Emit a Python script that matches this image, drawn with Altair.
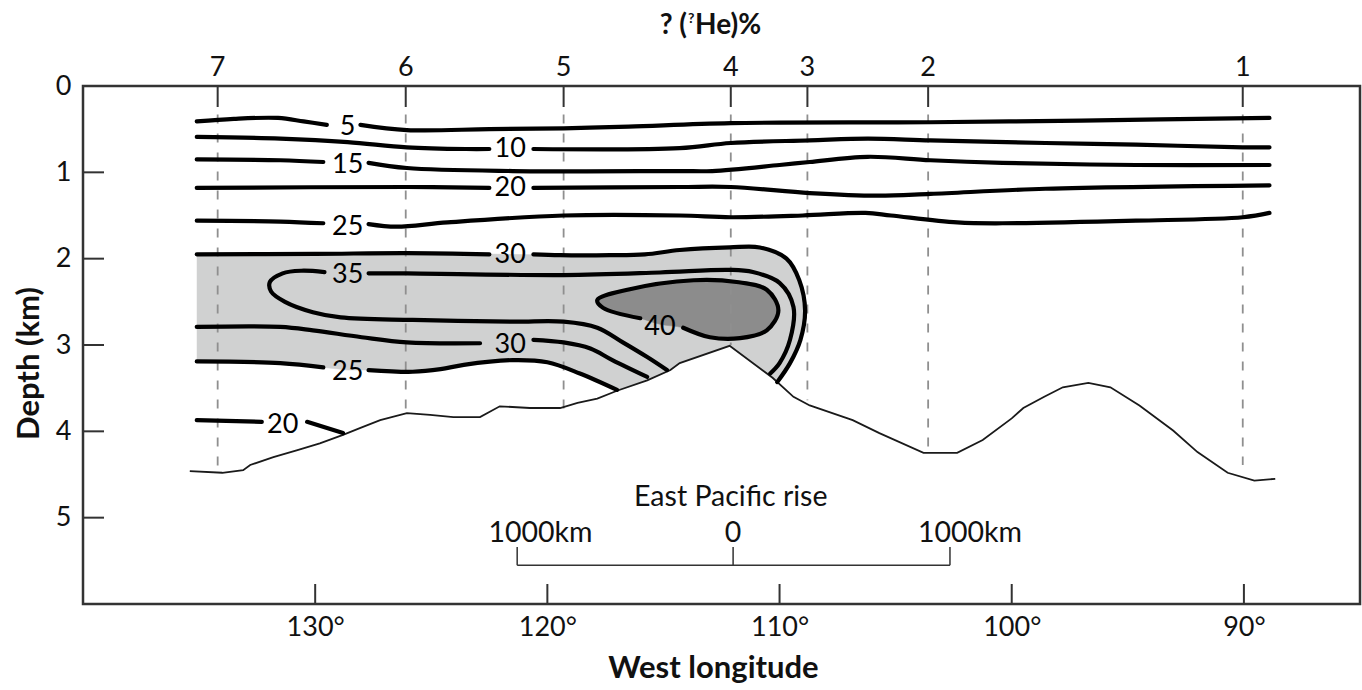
import altair as alt
import pandas as pd

FONT = "Lato"

# ---------------- values ----------------
lon_ticks = [130, 120, 110, 100, 90]
depth_labels = [0, 1, 2, 3, 4, 5]
depth_inner_ticks = [1, 2, 3, 4, 5]

# stations along the top (number, longitude, dashed line from top to seafloor)
station_num = ["7", "6", "5", "4", "3", "2", "1"]
station_lon = [134.2, 126.1, 119.3, 112.1, 108.8, 103.6, 90.05]
station_top = [0.33, 0.33, 0.33, 0.33, 0.33, 0.33, 0.33]
station_bottom = [4.45, 3.76, 3.74, 3.0, 3.64, 4.18, 4.39]

# seafloor profile (West longitude, depth km)
seafloor_lon = [135.4, 134.0, 133.1, 132.8, 131.8, 130.8, 129.8, 128.8, 128.05, 127.2,
                126.05, 125.05, 124.05, 122.9, 122.05, 120.75, 119.45, 118.7, 117.85, 117.0,
                115.7, 114.7, 114.3, 112.15, 110.3, 109.4, 108.7, 106.85, 105.7, 103.8,
                102.35, 101.25, 100.0, 99.5, 98.6, 97.8, 96.7, 95.75, 94.5, 93.05,
                92.0, 90.7, 89.55, 88.65]
seafloor_depth = [4.46, 4.48, 4.45, 4.39, 4.30, 4.22, 4.14, 4.04, 3.96, 3.87,
                  3.79, 3.81, 3.835, 3.835, 3.71, 3.73, 3.73, 3.67, 3.62, 3.53,
                  3.41, 3.29, 3.21, 3.01, 3.38, 3.60, 3.70, 3.87, 4.02, 4.25,
                  4.25, 4.10, 3.85, 3.73, 3.60, 3.49, 3.44, 3.49, 3.70, 3.99,
                  4.24, 4.48, 4.57, 4.55]

# contour segments (lon, depth); gaps are left where the labels sit
iso5_w = [(135.1, 0.41), (133.5, 0.38), (131.6, 0.37), (130.5, 0.41), (129.5, 0.45)]
iso5_e = [(128.05, 0.45), (126.05, 0.51), (122.5, 0.50), (119.3, 0.49), (116.5, 0.47),
          (112.1, 0.43), (103.5, 0.42), (97.0, 0.40), (88.9, 0.37)]
iso10_w = [(135.1, 0.59), (131.5, 0.61), (128.6, 0.65), (126.05, 0.71), (123.5, 0.73), (122.5, 0.73)]
iso10_e = [(120.6, 0.73), (114.3, 0.72), (112.1, 0.66), (108.7, 0.63), (106.2, 0.61),
           (103.5, 0.63), (98.55, 0.66), (94.65, 0.68), (90.05, 0.71), (88.9, 0.71)]
iso15_w = [(135.1, 0.85), (131.5, 0.86), (129.65, 0.88)]
iso15_e = [(127.7, 0.89), (126.05, 0.95), (121.5, 0.985), (114.3, 0.985), (112.9, 0.985),
           (110.0, 0.915), (108.7, 0.88), (106.2, 0.82), (103.5, 0.86), (100.4, 0.89),
           (94.65, 0.915), (88.9, 0.915)]
iso20_w = [(135.1, 1.18), (126.05, 1.17), (122.5, 1.18)]
iso20_e = [(120.6, 1.18), (114.3, 1.17), (112.1, 1.17), (108.7, 1.24), (105.8, 1.27),
           (103.5, 1.25), (98.55, 1.19), (88.9, 1.15)]
iso25_w = [(135.1, 1.56), (131.5, 1.57), (129.65, 1.59)]
iso25_e = [(127.7, 1.60), (126.5, 1.63), (124.3, 1.58), (119.3, 1.50), (114.3, 1.50),
           (112.1, 1.52), (109.0, 1.50), (106.3, 1.47), (105.2, 1.50), (102.35, 1.58),
           (100.4, 1.59), (94.65, 1.56), (90.05, 1.52), (88.9, 1.47)]
iso30_w = [(135.1, 1.95), (130.0, 1.945), (126.05, 1.935), (122.5, 1.95)]
iso30_e = [(120.6, 1.95), (119.45, 1.96), (117.3, 1.96), (115.8, 1.95), (114.3, 1.90),
           (112.15, 1.87), (110.85, 1.87), (109.7, 2.00), (109.15, 2.25), (108.9, 2.60),
           (109.1, 2.94), (109.55, 3.21), (110.1, 3.43)]
iso35_e = [(127.7, 2.17), (126.05, 2.17), (119.3, 2.19), (115.15, 2.16), (112.15, 2.13),
           (111.15, 2.155), (110.0, 2.28), (109.4, 2.56), (109.55, 2.94), (110.0, 3.21),
           (110.4, 3.33)]
iso35_w = [(129.6, 2.155), (130.6, 2.14), (131.4, 2.17), (131.95, 2.27), (131.9, 2.38),
           (131.3, 2.50), (130.1, 2.62), (128.9, 2.68), (125.8, 2.71), (121.5, 2.73),
           (119.3, 2.73), (117.85, 2.80), (116.75, 2.97), (115.7, 3.14), (114.85, 3.29)]
iso40 = [(116.0, 2.69), (117.6, 2.57), (117.85, 2.48), (116.55, 2.36), (113.7, 2.25),
         (111.85, 2.27), (110.55, 2.36), (110.05, 2.60), (110.55, 2.83), (111.7, 2.92),
         (113.0, 2.91), (114.15, 2.80)]
iso30_low_w = [(135.1, 2.79), (131.5, 2.79), (130.1, 2.83), (128.0, 2.91), (126.05, 2.97), (122.9, 2.98)]
iso30_low_e = [(120.6, 2.94), (119.3, 2.97), (118.15, 3.04), (117.2, 3.175), (115.7, 3.37)]
iso25_low_w = [(135.1, 3.19), (131.5, 3.21), (129.65, 3.26)]
iso25_low_e = [(127.7, 3.29), (125.8, 3.31), (124.6, 3.28), (123.6, 3.23), (121.5, 3.175),
               (120.0, 3.20), (118.6, 3.33), (117.0, 3.52)]
iso20_low_w = [(135.1, 3.87), (132.3, 3.89)]
iso20_low_e = [(130.35, 3.89), (128.8, 4.02)]

segments = [iso5_w, iso5_e, iso10_w, iso10_e, iso15_w, iso15_e, iso20_w, iso20_e,
            iso25_w, iso25_e, iso30_w, iso30_e, iso35_e, iso35_w, iso40,
            iso30_low_w, iso30_low_e, iso25_low_w, iso25_low_e, iso20_low_w, iso20_low_e]

# shaded areas
light_region = [(135.1, 1.95), (130.0, 1.945), (126.05, 1.935), (121.6, 1.95), (119.45, 1.96),
                (117.3, 1.96), (115.8, 1.95), (114.3, 1.90), (112.15, 1.87), (110.85, 1.87),
                (109.7, 2.00), (109.15, 2.25), (108.9, 2.60), (109.1, 2.94), (109.55, 3.21),
                (110.1, 3.43), (112.15, 3.01), (114.3, 3.21), (114.7, 3.29), (115.7, 3.41),
                (117.0, 3.53), (118.6, 3.33), (120.0, 3.20), (121.5, 3.175), (123.6, 3.23),
                (125.8, 3.31), (127.7, 3.29), (128.6, 3.29), (129.65, 3.26), (131.5, 3.21),
                (135.1, 3.19)]
dark_region = [(117.85, 2.48), (116.55, 2.36), (113.7, 2.25), (111.85, 2.27), (110.55, 2.36),
               (110.05, 2.60), (110.55, 2.83), (111.7, 2.92), (113.0, 2.91), (114.15, 2.80),
               (115.15, 2.76), (116.0, 2.69), (117.6, 2.57)]

# contour labels
label_text = ["5", "10", "15", "20", "25", "30", "35", "40", "30", "25", "20"]
label_lon = [128.6, 121.6, 128.6, 121.6, 128.6, 121.6, 128.6, 115.15, 121.6, 128.6, 131.4]
label_depth = [0.475, 0.73, 0.915, 1.18, 1.63, 1.96, 2.19, 2.79, 3.0, 3.31, 3.93]

# East Pacific rise distance bar
bar_tick_lon = [121.3, 112.0, 102.66]
bar_depth = [5.55, 5.55, 5.55]
bar_tick_top = [5.34, 5.34, 5.34]
bar_text = ["1000km", "0", "1000km"]
bar_text_lon = [120.3, 112.0, 101.8]
bar_text_depth = [5.18, 5.18, 5.18]
rise_text = ["East Pacific rise"]
rise_lon = [112.1]
rise_depth = [4.76]

# ---------------- tables ----------------
def seg_table(segs):
    rows = []
    for s, seg in enumerate(segs):
        for i, (lo, de) in enumerate(seg):
            rows.append({"seg": s, "i": i, "lon": lo, "depth": de})
    return pd.DataFrame(rows)

df_iso = seg_table(segments)
df_light = seg_table([light_region])
df_dark = seg_table([dark_region])
df_floor = pd.DataFrame({"lon": seafloor_lon, "depth": seafloor_depth,
                         "i": list(range(len(seafloor_lon)))})
df_st = pd.DataFrame({"num": station_num, "lon": station_lon,
                      "top": station_top, "bottom": station_bottom})
df_lab = pd.DataFrame({"t": label_text, "lon": label_lon, "depth": label_depth})
df_xt = pd.DataFrame({"lon": lon_ticks})
df_yt = pd.DataFrame({"depth": depth_inner_ticks})
df_bar = pd.DataFrame({"lon": bar_tick_lon, "depth": bar_depth, "top": bar_tick_top})
df_bar_line = pd.DataFrame({"lon": [bar_tick_lon[0]], "lon2": [bar_tick_lon[-1]],
                            "depth": [bar_depth[0]]})
df_bar_txt = pd.DataFrame({"t": bar_text, "lon": bar_text_lon, "depth": bar_text_depth})
df_rise = pd.DataFrame({"t": rise_text, "lon": rise_lon, "depth": rise_depth})

# ---------------- scales / axes ----------------
xscale = alt.Scale(domain=[85, 140], reverse=True, nice=False, zero=False)
yscale = alt.Scale(domain=[0, 6], reverse=True, nice=False, zero=False)

xaxis = alt.Axis(values=lon_ticks, labelExpr="datum.value + '°'", labelFontSize=27,
                 labelPadding=10, labelFlush=False, title="West longitude",
                 titleFontSize=31, titleFontWeight="bold", titleX=630, titleY=64,
                 titleAlign="center", titleBaseline="middle")
yaxis = alt.Axis(values=depth_labels, labelFontSize=27, labelPadding=12,
                 title="Depth (km)", titleFontSize=31, titleFontWeight="bold",
                 titleX=-54, titleY=277, titleBaseline="middle")

X = alt.X("lon:Q", scale=xscale, axis=xaxis)
Y = alt.Y("depth:Q", scale=yscale, axis=yaxis)

light = alt.Chart(df_light).mark_line(fill="#d0d1d1", stroke="#d0d1d1", strokeWidth=0.5).encode(
    x=X, y=Y, order="i:Q")
dark = alt.Chart(df_dark).mark_line(fill="#8c8c8c", stroke="#8c8c8c", strokeWidth=0.5,
                                    interpolate="catmull-rom").encode(x=X, y=Y, order="i:Q")

dashes = alt.Chart(df_st).mark_rule(color="#8f8f8f", strokeWidth=1.8, strokeDash=[9, 10]).encode(
    x=X, y=alt.Y("top:Q", scale=yscale, axis=yaxis), y2="bottom:Q")

floor = alt.Chart(df_floor).mark_line(color="#1a1a1a", strokeWidth=1.8).encode(
    x=X, y=Y, order="i:Q")

iso = alt.Chart(df_iso).mark_line(color="black", strokeWidth=4.2, interpolate="catmull-rom",
                                  strokeCap="round", strokeJoin="round").encode(
    x=X, y=Y, detail="seg:N", order="i:Q")

labels = alt.Chart(df_lab).mark_text(font=FONT, fontSize=27, color="black",
                                     align="center", baseline="middle").encode(
    x=X, y=Y, text="t:N")

xticks = alt.Chart(df_xt).mark_rule(color="#333333", strokeWidth=2).encode(
    x=X, y=alt.value(518), y2=alt.value(498))
yticks = alt.Chart(df_yt).mark_rule(color="#333333", strokeWidth=2).encode(
    y=Y, x=alt.value(0), x2=alt.value(21))
topticks = alt.Chart(df_st).mark_rule(color="#333333", strokeWidth=2).encode(
    x=X, y=alt.value(0), y2=alt.value(21))
st_labels = alt.Chart(df_st).mark_text(font=FONT, fontSize=27, color="#111111",
                                       align="center", baseline="middle").encode(
    x=X, y=alt.value(-18), text="num:N")

bar_ticks = alt.Chart(df_bar).mark_rule(color="#333333", strokeWidth=1.5).encode(
    x=X, y=Y, y2="top:Q")
bar_line = alt.Chart(df_bar_line).mark_rule(color="#333333", strokeWidth=1.5).encode(
    x=X, x2="lon2:Q", y=Y)
bar_txt = alt.Chart(df_bar_txt).mark_text(font=FONT, fontSize=28.5, color="#111111",
                                          align="center", baseline="middle").encode(
    x=X, y=Y, text="t:N")
rise_txt = alt.Chart(df_rise).mark_text(font=FONT, fontSize=28.5, color="#111111",
                                        align="center", baseline="middle").encode(
    x=X, y=Y, text="t:N")

title_df = pd.DataFrame({"a": ["? ("], "b": ["?"], "c": ["He)%"]})
t1 = alt.Chart(title_df).mark_text(font=FONT, fontSize=28, fontWeight="bold", color="#111111",
                                   align="right", baseline="alphabetic").encode(
    text="a:N", x=alt.value(604), y=alt.value(-52))
t2 = alt.Chart(title_df).mark_text(font=FONT, fontSize=14, fontWeight="bold", color="#111111",
                                   align="left", baseline="alphabetic").encode(
    text="b:N", x=alt.value(605), y=alt.value(-63))
t3 = alt.Chart(title_df).mark_text(font=FONT, fontSize=28, fontWeight="bold", color="#111111",
                                   align="left", baseline="alphabetic").encode(
    text="c:N", x=alt.value(612), y=alt.value(-52))

chart = alt.layer(
    light, dark, dashes, floor, iso, labels, xticks, yticks, topticks, st_labels,
    bar_ticks, bar_line, bar_txt, rise_txt, t1, t2, t3
).properties(
    width=1277, height=518,
    padding={"left": 83, "top": 86, "right": 2, "bottom": 86},
    autosize=alt.AutoSizeParams(type="none"),
    background="white",
).configure_view(
    stroke="#333333", strokeWidth=2.5
).configure_axis(
    labelFont=FONT, titleFont=FONT, labelColor="#111111", titleColor="#111111",
    grid=False, ticks=False, domain=False
)

chart.save("out.html", embed_options={"renderer": "svg", "actions": False})
